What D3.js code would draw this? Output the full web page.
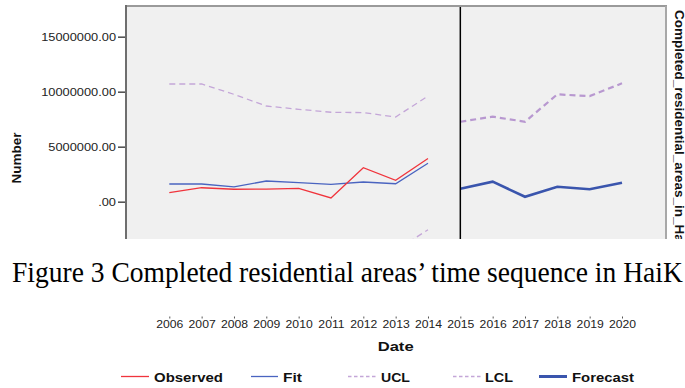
<!DOCTYPE html>
<html><head><meta charset="utf-8">
<script src="https://cdn.jsdelivr.net/npm/d3@7"></script>
<style>body{margin:0;background:#fff}svg{display:block}</style>
</head><body>
<svg id="c" width="685" height="388"></svg>
<script>
// ---- data ----
const years = [2006,2007,2008,2009,2010,2011,2012,2013,2014];
const forecastYears = [2015,2016,2017,2018,2019,2020];
const observed = [820000,1270000,1130000,1150000,1220000,340000,3090000,1950000,3920000];
const fit = [1610000,1610000,1340000,1880000,1730000,1580000,1790000,1630000,3490000];
const ucl = [10700000,10700000,9760000,8700000,8400000,8130000,8100000,7700000,9600000];
const lcl = [-7480000,-7480000,-7080000,-4940000,-4940000,-4970000,-4520000,-4450000,-2550000];
const forecast = [1180000,1820000,450000,1360000,1130000,1730000];
const forecastUcl = [7270000,7730000,7270000,9760000,9600000,10760000];
const forecastLcl = [-4830000,-4090000,-6370000,-7040000,-7340000,-7300000];
const yTicks = [0,5000000,10000000,15000000];
const yTickLabels = [".00","5000000.00","10000000.00","15000000.00"];
const xTickLabels = ["2006","2007","2008","2009","2010","2011","2012","2013","2014","2015","2016","2017","2018","2019","2020"];
const legendLabels = ["Observed","Fit","UCL","LCL","Forecast"];
const captionText = "Figure 3 Completed residential areas\u2019 time sequence in HaiK";
const rightLabel = "Completed_residential_areas_in_HaiKou-Model_1";

// ---- layout ----
const svg = d3.select("#c");
const P = {l:126, r:666, t:6, b:239};
const x = d3.scaleLinear().domain([2006,2020]).range([169.3,622]);
const y = d3.scaleLinear().domain([0,15000000]).range([201.7,36.7]);
const sans = "'Liberation Sans', Arial, sans-serif";

const col = {obs:"#f0343c", fit:"#4a64c0", ucl:"#c4a6d8", fc:"#3a55ad", fucl:"#b898d0"};

const defs = svg.append("defs");
defs.append("clipPath").attr("id","plotclip").append("rect")
  .attr("x",P.l).attr("y",P.t).attr("width",P.r-P.l).attr("height",P.b-P.t);
defs.append("clipPath").attr("id","topclip").append("rect")
  .attr("x",0).attr("y",0).attr("width",685).attr("height",P.b);

const topG = svg.append("g").attr("clip-path","url(#topclip)");

// plot background
topG.append("rect").attr("x",P.l).attr("y",P.t).attr("width",P.r-P.l).attr("height",P.b-P.t+2)
  .attr("fill","#f0f0f0");

// series
const plot = topG.append("g").attr("clip-path","url(#plotclip)");
const line = d3.line().x(d=>x(d[0])).y(d=>y(d[1]));
const pairs = (xs, vs) => xs.map((yr,i)=>[yr, vs[i]]);

plot.append("path").attr("d", line(pairs(years, ucl))).attr("fill","none")
  .attr("stroke",col.ucl).attr("stroke-width",1.3).attr("stroke-dasharray","6,4");
plot.append("path").attr("d", line(pairs(years, lcl))).attr("fill","none")
  .attr("stroke",col.ucl).attr("stroke-width",1.3).attr("stroke-dasharray","6,4");
plot.append("path").attr("d", line(pairs(years, fit))).attr("fill","none")
  .attr("stroke",col.fit).attr("stroke-width",1.3);
plot.append("path").attr("d", line(pairs(years, observed))).attr("fill","none")
  .attr("stroke",col.obs).attr("stroke-width",1.3);
plot.append("path").attr("d", line(pairs(forecastYears, forecastUcl))).attr("fill","none")
  .attr("stroke",col.fucl).attr("stroke-width",2.2).attr("stroke-dasharray","6,4");
plot.append("path").attr("d", line(pairs(forecastYears, forecastLcl))).attr("fill","none")
  .attr("stroke",col.fucl).attr("stroke-width",2.2).attr("stroke-dasharray","6,4");
plot.append("path").attr("d", line(pairs(forecastYears, forecast))).attr("fill","none")
  .attr("stroke",col.fc).attr("stroke-width",2.6);

// forecast origin line
topG.append("line").attr("x1",x(2015)).attr("x2",x(2015)).attr("y1",P.t).attr("y2",P.b)
  .attr("stroke","#000").attr("stroke-width",1.5);

// borders
topG.append("line").attr("x1",P.l-1).attr("x2",P.r+1).attr("y1",P.t).attr("y2",P.t)
  .attr("stroke","#9a9a9a").attr("stroke-width",2);
topG.append("line").attr("x1",P.r).attr("x2",P.r).attr("y1",P.t).attr("y2",P.b)
  .attr("stroke","#a8a8a8").attr("stroke-width",2);
topG.append("line").attr("x1",P.l).attr("x2",P.l).attr("y1",P.t-1).attr("y2",P.b)
  .attr("stroke","#6e6e6e").attr("stroke-width",2);

// y axis
const yAxis = topG.append("g").attr("transform",`translate(${P.l-1},0)`)
  .call(d3.axisLeft(y).tickValues(yTicks).tickFormat((d,i)=>yTickLabels[i]).tickSize(7).tickPadding(2));
yAxis.select(".domain").remove();
yAxis.selectAll(".tick line").attr("stroke","#555").attr("stroke-width",1.6);
yAxis.selectAll(".tick text")
  .attr("x",null).attr("transform","translate(-9,0) scale(1.22,1)")
  .attr("font-family",sans).attr("font-size",10.5).attr("fill","#222").attr("dy","0.36em");

// y title
topG.append("text").attr("transform","translate(21,158) rotate(-90)")
  .attr("text-anchor","middle").attr("font-family",sans).attr("font-weight","bold")
  .attr("font-size",13.5).attr("fill","#111").text("Number");

// right title
topG.append("text").attr("transform","translate(674.5,10) rotate(90)")
  .attr("text-anchor","start").attr("font-family",sans).attr("font-weight","bold")
  .attr("font-size",13.5).attr("fill","#111").text(rightLabel);

// caption
const cap = svg.append("text").attr("x",0).attr("y",0)
  .attr("font-family","'Liberation Serif','Times New Roman',serif")
  .attr("font-size",28.5).attr("fill","#000").text(captionText);
const capLen = cap.node().getComputedTextLength();
const sx = 671/capLen;
cap.attr("transform",`translate(12,282) scale(${sx},1)`);

// bottom axis (date)
const xAxis = svg.append("g").attr("transform","translate(0,316.5)")
  .call(d3.axisBottom(x).tickValues(d3.range(xTickLabels.length).map(i=>2006+i))
    .tickFormat((d,i)=>xTickLabels[i]).tickSize(2).tickPadding(0));
xAxis.select(".domain").remove();
xAxis.selectAll(".tick line").attr("stroke","#555").attr("stroke-width",1);
xAxis.selectAll(".tick text").attr("y",12).attr("dy",0)
  .attr("transform","scale(1.22,1)")
  .attr("font-family",sans).attr("font-size",10).attr("fill","#222");

svg.append("text").attr("x",(x(2006)+x(2020))/2).attr("y",350.5)
  .attr("text-anchor","middle").attr("font-family",sans).attr("font-weight","bold")
  .attr("font-size",12.5).attr("textLength",36).attr("lengthAdjust","spacingAndGlyphs")
  .attr("fill","#111").text("Date");

// legend
const legendLayout = [
  {x1:121,x2:149,tx:154,tw:69,stroke:col.obs,w:1.3,dash:null},
  {x1:251,x2:278,tx:283,tw:19,stroke:col.fit,w:1.3,dash:null},
  {x1:348,x2:377,tx:381,tw:29,stroke:col.ucl,w:1.3,dash:"3.5,2.5"},
  {x1:453,x2:481,tx:485,tw:28,stroke:col.ucl,w:1.3,dash:"3.5,2.5"},
  {x1:539,x2:567,tx:572,tw:62,stroke:col.fc,w:3,dash:null}
];
const lg = svg.append("g");
legendLabels.forEach((lab,i)=>{
  const L = legendLayout[i];
  lg.append("line").attr("x1",L.x1).attr("x2",L.x2).attr("y1",376.5).attr("y2",376.5)
    .attr("stroke",L.stroke).attr("stroke-width",L.w).attr("stroke-dasharray",L.dash);
  lg.append("text").attr("x",L.tx).attr("y",382).attr("font-family",sans)
    .attr("font-weight","bold").attr("font-size",12.5).attr("fill","#111")
    .attr("textLength",L.tw).attr("lengthAdjust","spacingAndGlyphs").text(lab);
});
</script>
</body></html>
